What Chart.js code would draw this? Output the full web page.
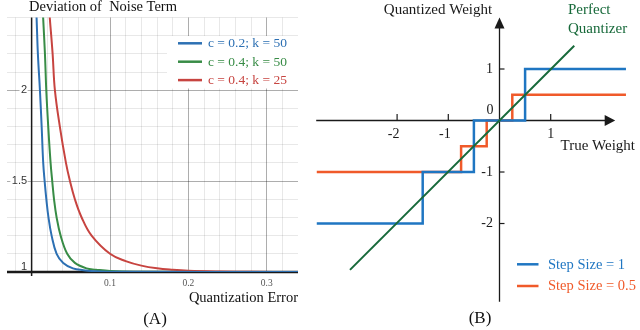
<!DOCTYPE html>
<html>
<head>
<meta charset="utf-8">
<script src="https://cdn.jsdelivr.net/npm/chart.js@4/dist/chart.umd.min.js"></script>
<style>
  html, body { margin: 0; padding: 0; background: #fff; }
  #wrap { position: relative; width: 640px; height: 330px; overflow: hidden; }
  canvas { position: absolute; top: 0; }
  #chartA { left: 0; }
  #chartB { left: 310px; }
</style>
</head>
<body>
<div id="wrap">
  <canvas id="chartA" width="310" height="330"></canvas>
  <canvas id="chartB" width="330" height="330"></canvas>
</div>
<script>
// ---------- Panel (A): deviation of noise term vs quantization error ----------
const labelsA = ['c = 0.2; k = 50', 'c = 0.4; k = 50', 'c = 0.4; k = 25'];
const colorsA = ['#2d70b3', '#388c46', '#c74440'];

// values (x = quantization error, y = deviation)
const blueErr  = [0.0046, 0.0064, 0.008, 0.0106, 0.0128, 0.0148, 0.0166, 0.0188, 0.0215, 0.0255, 0.0319, 0.0403, 0.0527, 0.066, 0.082, 0.11, 0.34];
const blueDev  = [2.6, 2.39, 2.2, 2.0, 1.8, 1.6, 1.5, 1.4, 1.3, 1.2, 1.1, 1.05, 1.02, 1.01, 1.004, 1.001, 1.0];
const greenErr = [0.0124, 0.0148, 0.017, 0.0187, 0.0212, 0.0242, 0.0263, 0.0286, 0.0319, 0.037, 0.0454, 0.0552, 0.070, 0.082, 0.1, 0.13, 0.34];
const greenDev = [2.6, 2.39, 2.2, 2.0, 1.8, 1.6, 1.5, 1.4, 1.3, 1.2, 1.1, 1.05, 1.02, 1.013, 1.005, 1.001, 1.0];
const redErr   = [0.0194, 0.0233, 0.0268, 0.0297, 0.036, 0.0438, 0.0489, 0.0552, 0.0638, 0.0765, 0.1, 0.12, 0.14, 0.16, 0.18, 0.2, 0.24, 0.28, 0.34];
const redDev   = [2.6, 2.39, 2.2, 2.0, 1.8, 1.6, 1.5, 1.4, 1.3, 1.2, 1.1, 1.06, 1.035, 1.02, 1.012, 1.007, 1.003, 1.001, 1.0];

const xTicksA = [0.1, 0.2, 0.3];
const xTickLabelsA = ['0.1', '0.2', '0.3'];
const yTicksA = [1, 1.5, 2];
const yTickLabelsA = ['1', '1.5', '2'];

// ---------- Panel (B): quantizer step functions ----------
const stepLabelsB = ['Step Size = 1', 'Step Size = 0.5'];
const step1X  = [-3.57, -1.5, -0.5, 0.5, 2.47];
const step1Y  = [-2, -1, 0, 1, 1];
const step05X = [-3.57, -0.75, -0.25, 0.25, 2.47];
const step05Y = [-1, -0.5, 0, 0.5, 0.5];
const perfectX = [-2.92, 1.46];
const perfectY = [-2.9, 1.45];

const xTicksB = [-2, -1, 1];
const xTickLabelsB = ['-2', '-1', '1'];
const yTicksB = [1, -1, -2];
const yTickLabelsB = ['1', '-1', '-2'];

const SERIF = '"Liberation Serif", "Times New Roman", serif';
const SANS = '"Liberation Sans", Arial, sans-serif';

function zip(xs, ys) {
    return xs.map((x, i) => ({ x: x, y: ys[i] }));
}

function isMultiple(v, step) {
    const r = v / step;
    return Math.abs(r - Math.round(r)) < 1e-6;
}

function strokeLine(ctx, x1, y1, x2, y2) {
    ctx.beginPath();
    ctx.moveTo(x1, y1);
    ctx.lineTo(x2, y2);
    ctx.stroke();
}

/* ----------------------------------------------------
   PANEL A
---------------------------------------------------- */
const panelAPlugin = {
    id: 'panelA',
    beforeDatasetsDraw(chart) {
        const { ctx, scales: { x, y } } = chart;
        ctx.save();
        // legend backdrop hides the grid
        ctx.fillStyle = '#ffffff';
        ctx.fillRect(167, 36, x.right - 167, 52.5);

        // axes
        ctx.strokeStyle = '#1a1a1a';
        const x0 = x.getPixelForValue(0);
        ctx.lineWidth = 1.5;
        strokeLine(ctx, x0, y.top, x0, y.bottom + 4);
        const y1 = y.getPixelForValue(1);
        ctx.lineWidth = 2.5;
        strokeLine(ctx, x.left, y1, x.right, y1);
        ctx.restore();
    },
    afterDraw(chart) {
        const { ctx, scales: { x, y } } = chart;
        ctx.save();
        const x0 = x.getPixelForValue(0);

        // y tick labels with a white halo
        ctx.font = '11px ' + SANS;
        ctx.textAlign = 'right';
        ctx.textBaseline = 'middle';
        yTicksA.forEach((v, i) => {
            let py = y.getPixelForValue(v);
            if (v === 1) py -= 5.5;
            const w = ctx.measureText(yTickLabelsA[i]).width;
            if (v !== 1) {
                ctx.fillStyle = '#fff';
                ctx.fillRect(x0 - 5 - w - 1, py - 5, w + 2, 10);
            }
            ctx.fillStyle = '#333';
            ctx.fillText(yTickLabelsA[i], x0 - 4.5, py);
        });

        // x tick labels
        ctx.font = '9.5px ' + SERIF;
        ctx.textAlign = 'center';
        ctx.fillStyle = '#555';
        xTicksA.forEach((v, i) => {
            ctx.fillText(xTickLabelsA[i], x.getPixelForValue(v), y.bottom + 11);
        });

        // legend
        ctx.font = '13.5px ' + SERIF;
        ctx.textAlign = 'left';
        chart.data.datasets.forEach((ds, i) => {
            const ly = 43.3 + i * 18.4;
            ctx.strokeStyle = ds.borderColor;
            ctx.lineWidth = 2.5;
            strokeLine(ctx, 178, ly, 202, ly);
            ctx.fillStyle = ds.borderColor;
            ctx.fillText(ds.label, 208, ly + 0.5);
        });

        // titles
        ctx.fillStyle = '#111';
        ctx.font = '14.5px ' + SERIF;
        ctx.textAlign = 'left';
        ctx.fillText('Deviation of  Noise Term', 29, 7);
        ctx.textAlign = 'right';
        ctx.fillText('Quantization Error', x.right, 298);
        ctx.textAlign = 'center';
        ctx.font = '17px ' + SERIF;
        ctx.fillText('(A)', 155, 320);
        ctx.restore();
    }
};

function gridColorA(step) {
    return (c) => {
        const v = c.tick ? c.tick.value : NaN;
        if (Math.abs(v) < 1e-9 || Math.abs(v - 1) < 1e-9) return 'rgba(0,0,0,0)';
        return isMultiple(v, step) ? 'rgba(0,0,0,0.32)' : 'rgba(0,0,0,0.09)';
    };
}

new Chart(document.getElementById('chartA'), {
    type: 'line',
    data: {
        datasets: [
            { label: labelsA[0], data: zip(blueErr, blueDev),   borderColor: colorsA[0] },
            { label: labelsA[1], data: zip(greenErr, greenDev), borderColor: colorsA[1] },
            { label: labelsA[2], data: zip(redErr, redDev),     borderColor: colorsA[2] }
        ].map(ds => Object.assign(ds, {
            borderWidth: 2,
            pointRadius: 0,
            fill: false,
            tension: 0.4
        }))
    },
    options: {
        responsive: false,
        animation: false,
        devicePixelRatio: 1,
        events: [],
        layout: { padding: { left: 7, right: 12, top: 17.5, bottom: 58 } },
        plugins: { legend: { display: false }, tooltip: { enabled: false } },
        scales: {
            x: {
                type: 'linear',
                min: -0.0314,
                max: 0.3398,
                border: { display: false },
                ticks: { display: false, stepSize: 0.02, includeBounds: false },
                grid: { drawTicks: false, color: gridColorA(0.1), lineWidth: 1 }
            },
            y: {
                type: 'linear',
                min: 1,
                max: 2.4,
                border: { display: false },
                ticks: { display: false, stepSize: 0.1, includeBounds: false },
                grid: { drawTicks: false, color: gridColorA(0.5), lineWidth: 1 }
            }
        }
    },
    plugins: [panelAPlugin]
});

/* ----------------------------------------------------
   PANEL B
---------------------------------------------------- */
const panelBPlugin = {
    id: 'panelB',
    beforeDatasetsDraw(chart) {
        const { ctx, scales: { x, y } } = chart;
        const ax = x.getPixelForValue(0);
        const ay = y.getPixelForValue(0);
        const xEnd = x.getPixelForValue(2.26);
        const yEnd = y.getPixelForValue(2.0);
        ctx.save();
        ctx.strokeStyle = '#1a1a1a';
        ctx.fillStyle = '#1a1a1a';
        ctx.lineWidth = 1.3;
        strokeLine(ctx, x.left, ay, xEnd - 6, ay);
        strokeLine(ctx, ax, y.bottom, ax, yEnd + 6);
        // arrowheads
        ctx.beginPath();
        ctx.moveTo(xEnd, ay);
        ctx.lineTo(xEnd - 10.5, ay - 5.5);
        ctx.lineTo(xEnd - 10.5, ay + 5.5);
        ctx.closePath();
        ctx.fill();
        ctx.beginPath();
        ctx.moveTo(ax, yEnd);
        ctx.lineTo(ax - 5, yEnd + 11);
        ctx.lineTo(ax + 5, yEnd + 11);
        ctx.closePath();
        ctx.fill();
        // tick marks
        ctx.lineWidth = 1.2;
        xTicksB.forEach(v => {
            const px = x.getPixelForValue(v);
            strokeLine(ctx, px, ay - 6.5, px, ay);
        });
        yTicksB.forEach(v => {
            const py = y.getPixelForValue(v);
            strokeLine(ctx, ax, py, ax + 5, py);
        });
        ctx.restore();
    },
    afterDraw(chart) {
        const { ctx, scales: { x, y } } = chart;
        const ax = x.getPixelForValue(0);
        const ay = y.getPixelForValue(0);
        ctx.save();
        ctx.fillStyle = '#1a1a1a';
        ctx.font = '14px ' + SERIF;
        ctx.textBaseline = 'middle';

        ctx.textAlign = 'center';
        xTicksB.forEach((v, i) => {
            const shift = v < 0 ? -3.5 : 0;
            ctx.fillText(xTickLabelsB[i], x.getPixelForValue(v) + shift, ay + 13.5);
        });
        ctx.textAlign = 'right';
        yTicksB.forEach((v, i) => {
            ctx.fillText(yTickLabelsB[i], ax - 6.5, y.getPixelForValue(v));
        });
        ctx.fillText('0', ax - 6, ay - 10.5);

        // axis titles
        ctx.font = '15px ' + SERIF;
        ctx.textAlign = 'center';
        ctx.fillText('Quantized Weight', 128, 10);
        ctx.textAlign = 'left';
        ctx.fillText('True Weight', 250.5, 146);

        const perfect = chart.data.datasets[0];
        ctx.fillStyle = perfect.borderColor;
        ctx.fillText('Perfect', 258, 10);
        ctx.fillText('Quantizer', 258, 29.5);

        // legend for the two step sizes
        ctx.font = '14.5px ' + SERIF;
        [chart.data.datasets[1], chart.data.datasets[2]].forEach((ds, i) => {
            const ly = 264.3 + i * 21.7;
            ctx.strokeStyle = ds.borderColor;
            ctx.lineWidth = 2.5;
            strokeLine(ctx, 207, ly, 228.5, ly);
            ctx.fillStyle = ds.borderColor;
            ctx.fillText(ds.label, 238, ly + 0.5);
        });

        ctx.fillStyle = '#111';
        ctx.textAlign = 'center';
        ctx.font = '17px ' + SERIF;
        ctx.fillText('(B)', 170, 319);
        ctx.restore();
    }
};

new Chart(document.getElementById('chartB'), {
    type: 'line',
    data: {
        datasets: [
            {
                label: 'Perfect Quantizer',
                data: zip(perfectX, perfectY),
                borderColor: '#17693a',
                borderWidth: 2,
                pointRadius: 0
            },
            {
                label: stepLabelsB[0],
                data: zip(step1X, step1Y),
                borderColor: '#1f76c2',
                borderWidth: 2.5,
                pointRadius: 0,
                stepped: 'before'
            },
            {
                label: stepLabelsB[1],
                data: zip(step05X, step05Y),
                borderColor: '#f05a2a',
                borderWidth: 2.5,
                pointRadius: 0,
                stepped: 'before'
            }
        ]
    },
    options: {
        responsive: false,
        animation: false,
        devicePixelRatio: 1,
        events: [],
        layout: { padding: { left: 6.2, right: 12.5, top: 17.5, bottom: 28.2 } },
        plugins: { legend: { display: false }, tooltip: { enabled: false } },
        scales: {
            x: { type: 'linear', display: false, min: -3.58, max: 2.5 },
            y: { type: 'linear', display: false, min: -3.52, max: 2.0 }
        }
    },
    plugins: [panelBPlugin]
});
</script>
</body>
</html>
